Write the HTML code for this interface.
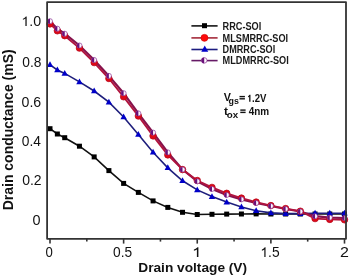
<!DOCTYPE html>
<html><head><meta charset="utf-8"><style>
html,body{margin:0;padding:0;background:#fff;}
body{width:350px;height:277px;overflow:hidden;}
svg{display:block;will-change:transform;}
text{font-family:"Liberation Sans",sans-serif;font-kerning:none;}
</style></head><body>
<svg width="350" height="277" viewBox="0 0 350 277">
<rect x="0" y="0" width="350" height="277" fill="#fff"/>
<polyline points="50.00,128.70 57.36,134.00 64.72,137.70 79.45,146.20 94.17,156.90 108.90,170.60 123.62,183.40 138.35,192.40 153.07,200.90 167.80,207.40 182.53,212.30 197.25,214.50 211.98,214.30 226.70,214.10 241.43,214.00 256.15,213.90 270.88,214.00 285.60,214.00 300.32,214.00 315.05,214.00 329.77,214.00 344.50,214.00" fill="none" stroke="#111" stroke-width="1.6"/>
<rect x="47.50" y="126.20" width="5.0" height="5.0" fill="#000"/>
<rect x="54.86" y="131.50" width="5.0" height="5.0" fill="#000"/>
<rect x="62.22" y="135.20" width="5.0" height="5.0" fill="#000"/>
<rect x="76.95" y="143.70" width="5.0" height="5.0" fill="#000"/>
<rect x="91.67" y="154.40" width="5.0" height="5.0" fill="#000"/>
<rect x="106.40" y="168.10" width="5.0" height="5.0" fill="#000"/>
<rect x="121.12" y="180.90" width="5.0" height="5.0" fill="#000"/>
<rect x="135.85" y="189.90" width="5.0" height="5.0" fill="#000"/>
<rect x="150.57" y="198.40" width="5.0" height="5.0" fill="#000"/>
<rect x="165.30" y="204.90" width="5.0" height="5.0" fill="#000"/>
<rect x="180.03" y="209.80" width="5.0" height="5.0" fill="#000"/>
<rect x="194.75" y="212.00" width="5.0" height="5.0" fill="#000"/>
<rect x="209.48" y="211.80" width="5.0" height="5.0" fill="#000"/>
<rect x="224.20" y="211.60" width="5.0" height="5.0" fill="#000"/>
<rect x="238.93" y="211.50" width="5.0" height="5.0" fill="#000"/>
<rect x="253.65" y="211.40" width="5.0" height="5.0" fill="#000"/>
<rect x="268.38" y="211.50" width="5.0" height="5.0" fill="#000"/>
<rect x="283.10" y="211.50" width="5.0" height="5.0" fill="#000"/>
<rect x="297.82" y="211.50" width="5.0" height="5.0" fill="#000"/>
<rect x="312.55" y="211.50" width="5.0" height="5.0" fill="#000"/>
<rect x="327.27" y="211.50" width="5.0" height="5.0" fill="#000"/>
<rect x="342.00" y="211.50" width="5.0" height="5.0" fill="#000"/>
<polyline points="50.00,64.80 57.36,70.00 64.72,73.40 79.45,81.90 94.17,91.00 108.90,102.20 123.62,117.00 138.35,134.50 153.07,152.30 167.80,167.80 182.53,180.80 197.25,189.90 211.98,196.60 226.70,202.10 241.43,206.90 256.15,210.80 270.88,212.90 285.60,213.60 300.32,213.60 315.05,213.30 329.77,213.30 344.50,213.20" fill="none" stroke="#1e1e7c" stroke-width="1.6"/>
<polygon points="50.00,61.34 53.20,67.10 46.80,67.10" fill="#0000c8"/>
<polygon points="57.36,66.54 60.56,72.30 54.16,72.30" fill="#0000c8"/>
<polygon points="64.72,69.94 67.92,75.70 61.52,75.70" fill="#0000c8"/>
<polygon points="79.45,78.44 82.65,84.20 76.25,84.20" fill="#0000c8"/>
<polygon points="94.17,87.54 97.38,93.30 90.97,93.30" fill="#0000c8"/>
<polygon points="108.90,98.74 112.10,104.50 105.70,104.50" fill="#0000c8"/>
<polygon points="123.62,113.54 126.83,119.30 120.42,119.30" fill="#0000c8"/>
<polygon points="138.35,131.04 141.55,136.80 135.15,136.80" fill="#0000c8"/>
<polygon points="153.07,148.84 156.27,154.60 149.88,154.60" fill="#0000c8"/>
<polygon points="167.80,164.34 171.00,170.10 164.60,170.10" fill="#0000c8"/>
<polygon points="182.53,177.34 185.72,183.10 179.33,183.10" fill="#0000c8"/>
<polygon points="197.25,186.44 200.45,192.20 194.05,192.20" fill="#0000c8"/>
<polygon points="211.98,193.14 215.18,198.90 208.78,198.90" fill="#0000c8"/>
<polygon points="226.70,198.64 229.90,204.40 223.50,204.40" fill="#0000c8"/>
<polygon points="241.43,203.44 244.62,209.20 238.23,209.20" fill="#0000c8"/>
<polygon points="256.15,207.34 259.35,213.10 252.95,213.10" fill="#0000c8"/>
<polygon points="270.88,209.44 274.07,215.20 267.68,215.20" fill="#0000c8"/>
<polygon points="285.60,210.14 288.80,215.90 282.40,215.90" fill="#0000c8"/>
<polygon points="300.32,210.14 303.52,215.90 297.12,215.90" fill="#0000c8"/>
<polygon points="315.05,209.84 318.25,215.60 311.85,215.60" fill="#0000c8"/>
<polygon points="329.77,209.84 332.97,215.60 326.57,215.60" fill="#0000c8"/>
<polygon points="344.50,209.74 347.70,215.50 341.30,215.50" fill="#0000c8"/>
<polyline points="50.00,21.20 57.36,28.70 64.72,33.70 79.45,45.50 94.17,60.00 108.90,75.90 123.62,93.20 138.35,113.40 153.07,132.60 167.80,152.40 182.53,169.50 197.25,181.30 211.98,189.00 226.70,195.00 241.43,199.40 256.15,203.00 270.88,206.00 285.60,209.00 300.32,211.50 315.05,216.20 329.77,217.60 344.50,218.00" fill="none" stroke="#86124c" stroke-width="2.2"/>
<polyline points="50.00,23.90 57.36,30.80 64.72,35.70 79.45,48.10 94.17,62.60 108.90,78.50 123.62,96.80 138.35,116.00 153.07,135.90 167.80,154.90 182.53,169.60 197.25,180.50 211.98,187.40 226.70,193.30 241.43,198.10 256.15,202.10 270.88,205.60 285.60,208.60 300.32,211.20 315.05,218.60 329.77,219.40 344.50,219.80" fill="none" stroke="#b0143e" stroke-width="1.9"/>
<circle cx="50.00" cy="23.90" r="3.25" fill="#e00816" stroke="#b80a1e" stroke-width="0.8"/>
<circle cx="57.36" cy="30.80" r="3.25" fill="#e00816" stroke="#b80a1e" stroke-width="0.8"/>
<circle cx="64.72" cy="35.70" r="3.25" fill="#e00816" stroke="#b80a1e" stroke-width="0.8"/>
<circle cx="79.45" cy="48.10" r="3.25" fill="#e00816" stroke="#b80a1e" stroke-width="0.8"/>
<circle cx="94.17" cy="62.60" r="3.25" fill="#e00816" stroke="#b80a1e" stroke-width="0.8"/>
<circle cx="108.90" cy="78.50" r="3.25" fill="#e00816" stroke="#b80a1e" stroke-width="0.8"/>
<circle cx="123.62" cy="96.80" r="3.25" fill="#e00816" stroke="#b80a1e" stroke-width="0.8"/>
<circle cx="138.35" cy="116.00" r="3.25" fill="#e00816" stroke="#b80a1e" stroke-width="0.8"/>
<circle cx="153.07" cy="135.90" r="3.25" fill="#e00816" stroke="#b80a1e" stroke-width="0.8"/>
<circle cx="167.80" cy="154.90" r="3.25" fill="#e00816" stroke="#b80a1e" stroke-width="0.8"/>
<circle cx="182.53" cy="169.60" r="3.25" fill="#e00816" stroke="#b80a1e" stroke-width="0.8"/>
<circle cx="197.25" cy="180.50" r="3.25" fill="#e00816" stroke="#b80a1e" stroke-width="0.8"/>
<circle cx="211.98" cy="187.40" r="3.25" fill="#e00816" stroke="#b80a1e" stroke-width="0.8"/>
<circle cx="226.70" cy="193.30" r="3.25" fill="#e00816" stroke="#b80a1e" stroke-width="0.8"/>
<circle cx="241.43" cy="198.10" r="3.25" fill="#e00816" stroke="#b80a1e" stroke-width="0.8"/>
<circle cx="256.15" cy="202.10" r="3.25" fill="#e00816" stroke="#b80a1e" stroke-width="0.8"/>
<circle cx="270.88" cy="205.60" r="3.25" fill="#e00816" stroke="#b80a1e" stroke-width="0.8"/>
<circle cx="285.60" cy="208.60" r="3.25" fill="#e00816" stroke="#b80a1e" stroke-width="0.8"/>
<circle cx="300.32" cy="211.20" r="3.25" fill="#e00816" stroke="#b80a1e" stroke-width="0.8"/>
<circle cx="315.05" cy="218.60" r="3.25" fill="#e00816" stroke="#b80a1e" stroke-width="0.8"/>
<circle cx="329.77" cy="219.40" r="3.25" fill="#e00816" stroke="#b80a1e" stroke-width="0.8"/>
<circle cx="344.50" cy="219.80" r="3.25" fill="#e00816" stroke="#b80a1e" stroke-width="0.8"/>
<circle cx="50.00" cy="21.20" r="2.55" fill="#fbf4fb" stroke="#80208a" stroke-width="0.6"/><path d="M50.00,18.65 A2.55,2.55 0 0 0 50.00,23.75 Z" fill="#6a107a"/>
<circle cx="57.36" cy="28.70" r="2.55" fill="#fbf4fb" stroke="#80208a" stroke-width="0.6"/><path d="M57.36,26.15 A2.55,2.55 0 0 0 57.36,31.25 Z" fill="#6a107a"/>
<circle cx="64.72" cy="33.70" r="2.55" fill="#fbf4fb" stroke="#80208a" stroke-width="0.6"/><path d="M64.72,31.15 A2.55,2.55 0 0 0 64.72,36.25 Z" fill="#6a107a"/>
<circle cx="79.45" cy="45.50" r="2.55" fill="#fbf4fb" stroke="#80208a" stroke-width="0.6"/><path d="M79.45,42.95 A2.55,2.55 0 0 0 79.45,48.05 Z" fill="#6a107a"/>
<circle cx="94.17" cy="60.00" r="2.55" fill="#fbf4fb" stroke="#80208a" stroke-width="0.6"/><path d="M94.17,57.45 A2.55,2.55 0 0 0 94.17,62.55 Z" fill="#6a107a"/>
<circle cx="108.90" cy="75.90" r="2.55" fill="#fbf4fb" stroke="#80208a" stroke-width="0.6"/><path d="M108.90,73.35 A2.55,2.55 0 0 0 108.90,78.45 Z" fill="#6a107a"/>
<circle cx="123.62" cy="93.20" r="2.55" fill="#fbf4fb" stroke="#80208a" stroke-width="0.6"/><path d="M123.62,90.65 A2.55,2.55 0 0 0 123.62,95.75 Z" fill="#6a107a"/>
<circle cx="138.35" cy="113.40" r="2.55" fill="#fbf4fb" stroke="#80208a" stroke-width="0.6"/><path d="M138.35,110.85 A2.55,2.55 0 0 0 138.35,115.95 Z" fill="#6a107a"/>
<circle cx="153.07" cy="132.60" r="2.55" fill="#fbf4fb" stroke="#80208a" stroke-width="0.6"/><path d="M153.07,130.05 A2.55,2.55 0 0 0 153.07,135.15 Z" fill="#6a107a"/>
<circle cx="167.80" cy="152.40" r="2.55" fill="#fbf4fb" stroke="#80208a" stroke-width="0.6"/><path d="M167.80,149.85 A2.55,2.55 0 0 0 167.80,154.95 Z" fill="#6a107a"/>
<circle cx="182.53" cy="169.50" r="2.55" fill="#fbf4fb" stroke="#80208a" stroke-width="0.6"/><path d="M182.53,166.95 A2.55,2.55 0 0 0 182.53,172.05 Z" fill="#6a107a"/>
<circle cx="197.25" cy="181.30" r="2.55" fill="#fbf4fb" stroke="#80208a" stroke-width="0.6"/><path d="M197.25,178.75 A2.55,2.55 0 0 0 197.25,183.85 Z" fill="#6a107a"/>
<circle cx="211.98" cy="189.00" r="2.55" fill="#fbf4fb" stroke="#80208a" stroke-width="0.6"/><path d="M211.98,186.45 A2.55,2.55 0 0 0 211.98,191.55 Z" fill="#6a107a"/>
<circle cx="226.70" cy="195.00" r="2.55" fill="#fbf4fb" stroke="#80208a" stroke-width="0.6"/><path d="M226.70,192.45 A2.55,2.55 0 0 0 226.70,197.55 Z" fill="#6a107a"/>
<circle cx="241.43" cy="199.40" r="2.55" fill="#fbf4fb" stroke="#80208a" stroke-width="0.6"/><path d="M241.43,196.85 A2.55,2.55 0 0 0 241.43,201.95 Z" fill="#6a107a"/>
<circle cx="256.15" cy="203.00" r="2.55" fill="#fbf4fb" stroke="#80208a" stroke-width="0.6"/><path d="M256.15,200.45 A2.55,2.55 0 0 0 256.15,205.55 Z" fill="#6a107a"/>
<circle cx="270.88" cy="206.00" r="2.55" fill="#fbf4fb" stroke="#80208a" stroke-width="0.6"/><path d="M270.88,203.45 A2.55,2.55 0 0 0 270.88,208.55 Z" fill="#6a107a"/>
<circle cx="285.60" cy="209.00" r="2.55" fill="#fbf4fb" stroke="#80208a" stroke-width="0.6"/><path d="M285.60,206.45 A2.55,2.55 0 0 0 285.60,211.55 Z" fill="#6a107a"/>
<circle cx="300.32" cy="211.50" r="2.55" fill="#fbf4fb" stroke="#80208a" stroke-width="0.6"/><path d="M300.32,208.95 A2.55,2.55 0 0 0 300.32,214.05 Z" fill="#6a107a"/>
<circle cx="315.05" cy="216.20" r="2.55" fill="#fbf4fb" stroke="#80208a" stroke-width="0.6"/><path d="M315.05,213.65 A2.55,2.55 0 0 0 315.05,218.75 Z" fill="#6a107a"/>
<circle cx="329.77" cy="217.60" r="2.55" fill="#fbf4fb" stroke="#80208a" stroke-width="0.6"/><path d="M329.77,215.05 A2.55,2.55 0 0 0 329.77,220.15 Z" fill="#6a107a"/>
<circle cx="344.50" cy="218.00" r="2.55" fill="#fbf4fb" stroke="#80208a" stroke-width="0.6"/><path d="M344.50,215.45 A2.55,2.55 0 0 0 344.50,220.55 Z" fill="#6a107a"/>
<rect x="47.1" y="2.05" width="298.90" height="236.80" fill="none" stroke="#333" stroke-width="1.8" stroke-linejoin="round"/>
<line x1="50.00" y1="238.85" x2="50.00" y2="243.6" stroke="#333" stroke-width="1.6"/>
<line x1="86.81" y1="238.85" x2="86.81" y2="241.6" stroke="#333" stroke-width="1.6"/>
<line x1="123.62" y1="238.85" x2="123.62" y2="243.6" stroke="#333" stroke-width="1.6"/>
<line x1="160.44" y1="238.85" x2="160.44" y2="241.6" stroke="#333" stroke-width="1.6"/>
<line x1="197.25" y1="238.85" x2="197.25" y2="243.6" stroke="#333" stroke-width="1.6"/>
<line x1="234.06" y1="238.85" x2="234.06" y2="241.6" stroke="#333" stroke-width="1.6"/>
<line x1="270.88" y1="238.85" x2="270.88" y2="243.6" stroke="#333" stroke-width="1.6"/>
<line x1="307.69" y1="238.85" x2="307.69" y2="241.6" stroke="#333" stroke-width="1.6"/>
<line x1="344.50" y1="238.85" x2="344.50" y2="243.6" stroke="#333" stroke-width="1.6"/>
<text x="45.39" y="257.00" font-size="14" font-weight="normal" fill="#111" textLength="7.33" lengthAdjust="spacingAndGlyphs" >0</text>
<text x="113.06" y="257.00" font-size="14" font-weight="normal" fill="#111" textLength="19.11" lengthAdjust="spacingAndGlyphs" >0.5</text>
<path transform="translate(192.042,257.000) scale(0.00833,-0.00684)" d="M583,0 L763,0 L763,1409 L646,1409 C600,1310 480,1180 223,1085 L223,915 C370,965 480,1035 583,1110 Z" fill="#111"/><text x="192.04" y="257.00" font-size="14" font-weight="normal" fill="#111" textLength="9.49" lengthAdjust="spacingAndGlyphs" > </text>
<path transform="translate(260.398,257.000) scale(0.00674,-0.00684)" d="M583,0 L763,0 L763,1409 L646,1409 C600,1310 480,1180 223,1085 L223,915 C370,965 480,1035 583,1110 Z" fill="#111"/><text x="260.40" y="257.00" font-size="14" font-weight="normal" fill="#111" textLength="19.18" lengthAdjust="spacingAndGlyphs" > .5</text>
<text x="339.99" y="257.00" font-size="14" font-weight="normal" fill="#111" textLength="8.91" lengthAdjust="spacingAndGlyphs" >2</text>
<path transform="translate(21.348,26.100) scale(0.00696,-0.00684)" d="M583,0 L763,0 L763,1409 L646,1409 C600,1310 480,1180 223,1085 L223,915 C370,965 480,1035 583,1110 Z" fill="#111"/><text x="21.35" y="26.10" font-size="14" font-weight="normal" fill="#111" textLength="19.81" lengthAdjust="spacingAndGlyphs" > .0</text>
<text x="22.36" y="66.60" font-size="14" font-weight="normal" fill="#111" textLength="19.14" lengthAdjust="spacingAndGlyphs" >0.8</text>
<text x="21.55" y="107.20" font-size="14" font-weight="normal" fill="#111" textLength="19.67" lengthAdjust="spacingAndGlyphs" >0.6</text>
<text x="21.86" y="146.00" font-size="14" font-weight="normal" fill="#111" textLength="19.14" lengthAdjust="spacingAndGlyphs" >0.4</text>
<text x="22.15" y="185.00" font-size="14" font-weight="normal" fill="#111" textLength="19.45" lengthAdjust="spacingAndGlyphs" >0.2</text>
<text x="32.54" y="224.60" font-size="14" font-weight="normal" fill="#111" textLength="8.03" lengthAdjust="spacingAndGlyphs" >0</text>
<line x1="191.4" y1="25.9" x2="217.6" y2="25.9" stroke="#151515" stroke-width="1.6"/>
<rect x="202.00" y="23.20" width="5.0" height="5.0" fill="#000"/>
<text x="222.59" y="29.80" font-size="10.05" font-weight="bold" fill="#1a1a1a" textLength="38.73" lengthAdjust="spacingAndGlyphs" >RRC-SOI</text>
<line x1="191.4" y1="37.9" x2="217.6" y2="37.9" stroke="#a42a3a" stroke-width="1.6"/>
<circle cx="204.45" cy="37.85" r="3.45" fill="#ff0a0a" stroke="#d80808" stroke-width="0.8"/>
<text x="222.59" y="41.60" font-size="10.05" font-weight="bold" fill="#1a1a1a" textLength="65.52" lengthAdjust="spacingAndGlyphs" >MLSMRRC-SOI</text>
<line x1="191.4" y1="49.5" x2="217.6" y2="49.5" stroke="#1c1c80" stroke-width="1.6"/>
<polygon points="204.75,45.52 208.25,51.82 201.25,51.82" fill="#0000c8"/>
<text x="222.59" y="52.90" font-size="10.05" font-weight="bold" fill="#1a1a1a" textLength="52.62" lengthAdjust="spacingAndGlyphs" >DMRRC-SOI</text>
<line x1="191.4" y1="60.6" x2="217.6" y2="60.6" stroke="#661a66" stroke-width="1.6"/>
<circle cx="204.20" cy="60.40" r="2.8" fill="#fbf4fb" stroke="#80208a" stroke-width="0.6"/><path d="M204.20,57.60 A2.8,2.8 0 0 0 204.20,63.20 Z" fill="#6a107a"/>
<text x="222.59" y="64.20" font-size="10.05" font-weight="bold" fill="#1a1a1a" textLength="66.13" lengthAdjust="spacingAndGlyphs" >MLDMRRC-SOI</text>
<text x="223.83" y="101.40" font-size="10.4" font-weight="bold" fill="#111" textLength="7.15" lengthAdjust="spacingAndGlyphs" >V</text>
<text x="228.54" y="103.90" font-size="9.3" font-weight="bold" fill="#111" textLength="10.33" lengthAdjust="spacingAndGlyphs" >gs</text>
<rect x="239.5" y="95.9" width="5.4" height="1.4" fill="#111"/><rect x="239.5" y="98.1" width="5.4" height="1.4" fill="#111"/>
<path transform="translate(246.693,101.850) scale(0.00467,-0.00503)" d="M530,0 L811,0 L811,1409 L600,1409 C550,1300 430,1190 280,1120 L280,880 C370,920 450,970 530,1040 Z" fill="#111"/><text x="246.69" y="101.85" font-size="10.3" font-weight="bold" fill="#111" textLength="19.67" lengthAdjust="spacingAndGlyphs" > .2V</text>
<text x="223.95" y="115.00" font-size="10.9" font-weight="bold" fill="#111" textLength="3.99" lengthAdjust="spacingAndGlyphs" >t</text>
<text x="226.72" y="118.20" font-size="9.2" font-weight="bold" fill="#111" textLength="11.46" lengthAdjust="spacingAndGlyphs" >ox</text>
<rect x="240.3" y="109.4" width="5.3" height="1.4" fill="#111"/><rect x="240.3" y="111.7" width="5.3" height="1.4" fill="#111"/>
<text x="248.65" y="115.00" font-size="10.7" font-weight="bold" fill="#111" textLength="20.47" lengthAdjust="spacingAndGlyphs" >4nm</text>
<text x="138.28" y="271.90" font-size="13.1" font-weight="bold" fill="#111" textLength="108.80" lengthAdjust="spacingAndGlyphs" >Drain voltage (V)</text>
<g transform="translate(13.1,209.4) rotate(-90)"><text x="-0.94" y="0.00" font-size="14" font-weight="bold" fill="#111" textLength="161.03" lengthAdjust="spacingAndGlyphs" >Drain conductance (mS)</text></g>
</svg>
</body></html>
